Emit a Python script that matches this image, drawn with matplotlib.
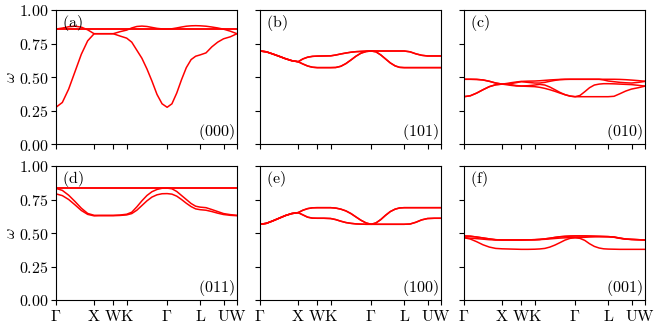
import numpy as np
import matplotlib
matplotlib.use("Agg")
import matplotlib.pyplot as plt

plt.rcParams['mathtext.fontset'] = 'cm'
plt.rcParams['font.family'] = 'serif'
plt.rcParams['font.serif'] = ['DejaVu Serif']

# high-symmetry path (normalized path coordinate)
tick_pos = [0.0, 0.2107, 0.3160, 0.3905, 0.6140, 0.7965, 0.9255, 1.0]
tick_labels = [r'$\Gamma$', r'$\mathrm{X}$', r'$\mathrm{W}$', r'$\mathrm{K}$',
               r'$\Gamma$', r'$\mathrm{L}$', r'$\mathrm{U}$', r'$\mathrm{W}$']

# sample points along the path where band values were read
k = [0.0, 0.035, 0.07, 0.105, 0.14, 0.175, 0.2107,
     0.2371, 0.2634, 0.2897, 0.316,
     0.3532, 0.3905,
     0.4185, 0.4465, 0.4745, 0.5025, 0.53, 0.558, 0.586, 0.614,
     0.6405, 0.667, 0.6935, 0.72, 0.7465, 0.7715, 0.7965,
     0.8288, 0.861, 0.8933, 0.9255,
     0.963, 1.0]

# ---- (a) (000)
a_low = [0.274, 0.31, 0.41, 0.54, 0.67, 0.77, 0.823,
         0.823, 0.823, 0.823, 0.823,
         0.806, 0.79,
         0.76, 0.70, 0.64, 0.56, 0.47, 0.37, 0.30, 0.274,
         0.30, 0.38, 0.48, 0.57, 0.63, 0.655, 0.665,
         0.68, 0.725, 0.76, 0.785,
         0.80, 0.823]
a_up = [0.858, 0.865, 0.875, 0.879, 0.872, 0.852, 0.823,
        0.823, 0.823, 0.823, 0.823,
        0.838, 0.85,
        0.866, 0.877, 0.880, 0.877, 0.870, 0.863, 0.859, 0.858,
        0.860, 0.866, 0.873, 0.879, 0.882, 0.883, 0.882,
        0.879, 0.873, 0.866, 0.857,
        0.842, 0.823]
a_flat = [0.858] * 34

# ---- (b) (101)
b_up = [0.694, 0.688, 0.672, 0.655, 0.637, 0.622, 0.614,
        0.635, 0.648, 0.654, 0.656,
        0.657, 0.658,
        0.664, 0.672, 0.679, 0.685, 0.689, 0.691, 0.693, 0.694,
        0.694, 0.694, 0.694, 0.694, 0.694, 0.694, 0.694,
        0.688, 0.673, 0.662, 0.657,
        0.657, 0.657]
b_low = [0.694, 0.688, 0.672, 0.655, 0.637, 0.622, 0.614,
         0.597, 0.582, 0.573, 0.570,
         0.570, 0.570,
         0.571, 0.580, 0.600, 0.627, 0.655, 0.678, 0.690, 0.694,
         0.688, 0.665, 0.635, 0.605, 0.583, 0.572, 0.570,
         0.570, 0.570, 0.570, 0.570,
         0.570, 0.570]

# ---- (c) (010)
c_1 = [0.483, 0.483, 0.482, 0.478, 0.468, 0.455, 0.447,
       0.442, 0.437, 0.433, 0.432,
       0.430, 0.428,
       0.423, 0.415, 0.405, 0.393, 0.380, 0.368, 0.358, 0.353,
       0.353, 0.353, 0.353, 0.353, 0.353, 0.353, 0.353,
       0.356, 0.375, 0.395, 0.410,
       0.420, 0.432]
c_2 = [0.353, 0.360, 0.380, 0.405, 0.428, 0.442, 0.447,
       0.452, 0.458, 0.463, 0.467,
       0.469, 0.470,
       0.472, 0.475, 0.478, 0.480, 0.482, 0.483, 0.483, 0.483,
       0.483, 0.483, 0.483, 0.483, 0.483, 0.483, 0.483,
       0.483, 0.482, 0.480, 0.477,
       0.473, 0.468]
c_3 = [0.483, 0.483, 0.482, 0.478, 0.468, 0.455, 0.447,
       0.447, 0.442, 0.436, 0.433,
       0.435, 0.440,
       0.445, 0.440, 0.425, 0.405, 0.385, 0.368, 0.357, 0.353,
       0.362, 0.390, 0.420, 0.440, 0.447, 0.450, 0.450,
       0.449, 0.447, 0.445, 0.443,
       0.438, 0.432]
c_4 = [0.353, 0.360, 0.380, 0.405, 0.428, 0.442, 0.447,
       0.447, 0.452, 0.458, 0.465,
       0.460, 0.455,
       0.455, 0.460, 0.468, 0.475, 0.480, 0.482, 0.483, 0.483,
       0.483, 0.483, 0.483, 0.483, 0.483, 0.478, 0.470,
       0.465, 0.460, 0.457, 0.455,
       0.460, 0.467]

# ---- (d) (011)
d_up = [0.833, 0.818, 0.782, 0.735, 0.685, 0.646, 0.632,
        0.632, 0.632, 0.632, 0.632,
        0.634, 0.640,
        0.655, 0.695, 0.740, 0.780, 0.808, 0.825, 0.834, 0.835,
        0.830, 0.810, 0.780, 0.750, 0.720, 0.700, 0.693,
        0.689, 0.675, 0.660, 0.645,
        0.637, 0.632]
d_low = [0.792, 0.779, 0.750, 0.710, 0.668, 0.639, 0.628,
         0.629, 0.629, 0.629, 0.629,
         0.631, 0.635,
         0.645, 0.670, 0.705, 0.740, 0.768, 0.785, 0.793, 0.794,
         0.790, 0.775, 0.750, 0.722, 0.697, 0.680, 0.674,
         0.670, 0.660, 0.648, 0.638,
         0.632, 0.629]
d_flat = [0.836] * 34

# ---- (e) (100)
e_up = [0.565, 0.572, 0.590, 0.610, 0.630, 0.645, 0.652,
        0.670, 0.682, 0.688, 0.689,
        0.689, 0.689,
        0.686, 0.678, 0.665, 0.645, 0.620, 0.595, 0.575, 0.565,
        0.575, 0.600, 0.632, 0.660, 0.678, 0.687, 0.689,
        0.689, 0.689, 0.689, 0.689,
        0.689, 0.689]
e_low = [0.565, 0.572, 0.590, 0.610, 0.630, 0.645, 0.652,
         0.635, 0.618, 0.611, 0.610,
         0.610, 0.608,
         0.600, 0.588, 0.578, 0.572, 0.568, 0.566, 0.565, 0.565,
         0.565, 0.565, 0.565, 0.565, 0.565, 0.565, 0.565,
         0.567, 0.580, 0.598, 0.608,
         0.610, 0.610]

# ---- (f) (001)
f_1 = [0.478, 0.476, 0.470, 0.463, 0.456, 0.450, 0.448,
       0.448, 0.448, 0.448, 0.448,
       0.449, 0.450,
       0.452, 0.456, 0.461, 0.467, 0.472, 0.475, 0.477, 0.478,
       0.478, 0.478, 0.477, 0.476, 0.475, 0.474, 0.473,
       0.470, 0.462, 0.455, 0.452,
       0.450, 0.448]
f_2 = [0.465, 0.462, 0.458, 0.454, 0.450, 0.448, 0.448,
       0.448, 0.448, 0.448, 0.448,
       0.449, 0.450,
       0.451, 0.453, 0.456, 0.459, 0.462, 0.464, 0.465, 0.465,
       0.466, 0.468, 0.470, 0.471, 0.472, 0.472, 0.472,
       0.468, 0.460, 0.454, 0.452,
       0.450, 0.448]
f_3 = [0.465, 0.455, 0.435, 0.412, 0.395, 0.385, 0.382,
       0.381, 0.380, 0.379, 0.378,
       0.378, 0.379,
       0.381, 0.385, 0.395, 0.410, 0.428, 0.447, 0.460, 0.465,
       0.460, 0.445, 0.420, 0.400, 0.388, 0.382, 0.380,
       0.379, 0.378, 0.378, 0.378,
       0.378, 0.378]

panels = [
    ('(a)', '(000)', [a_low, a_up, a_flat, a_flat]),
    ('(b)', '(101)', [b_up, b_up, b_low, b_low]),
    ('(c)', '(010)', [c_1, c_2, c_3, c_4]),
    ('(d)', '(011)', [d_up, d_low, d_flat, d_flat]),
    ('(e)', '(100)', [e_up, e_up, e_low, e_low]),
    ('(f)', '(001)', [f_1, f_1, f_2, f_3]),
]

W, H = 658, 329
fig = plt.figure(figsize=(W / 100, H / 100), dpi=100)
ax_w, ax_h = 181 / W, 134 / H
lefts = [56 / W, 260 / W, 464 / W]
bottoms = [1 - 144 / H, 1 - 300 / H]

yticks = [0.0, 0.25, 0.5, 0.75, 1.0]
fs = 11.5
for i, (lab, idx, bands) in enumerate(panels):
    r, c = divmod(i, 3)
    ax = fig.add_axes([lefts[c], bottoms[r], ax_w, ax_h])
    for band in bands:
        ax.plot(k, band, color='red', lw=1.1)
    ax.set_xlim(0, 1)
    ax.set_ylim(0, 1)
    ax.set_xticks(tick_pos)
    ax.set_yticks(yticks)
    ax.tick_params(direction='out', length=3.5, width=0.8, labelsize=fs, pad=2)
    if r == 1:
        ax.set_xticklabels(tick_labels)
    else:
        ax.set_xticklabels([])
    if c == 0:
        ax.set_yticklabels([r'$%.2f$' % v for v in yticks])
        ax.set_ylabel(r'$\omega$', fontsize=fs, labelpad=0)
    else:
        ax.set_yticklabels([])
    for s in ax.spines.values():
        s.set_linewidth(0.8)
    ax.text(0.035, 0.975, r'$\mathrm{%s}$' % lab, transform=ax.transAxes,
            ha='left', va='top', fontsize=fs)
    ax.text(0.99, 0.015, r'$\mathrm{%s}$' % idx, transform=ax.transAxes,
            ha='right', va='bottom', fontsize=fs)

fig.savefig('out.png', dpi=100)
